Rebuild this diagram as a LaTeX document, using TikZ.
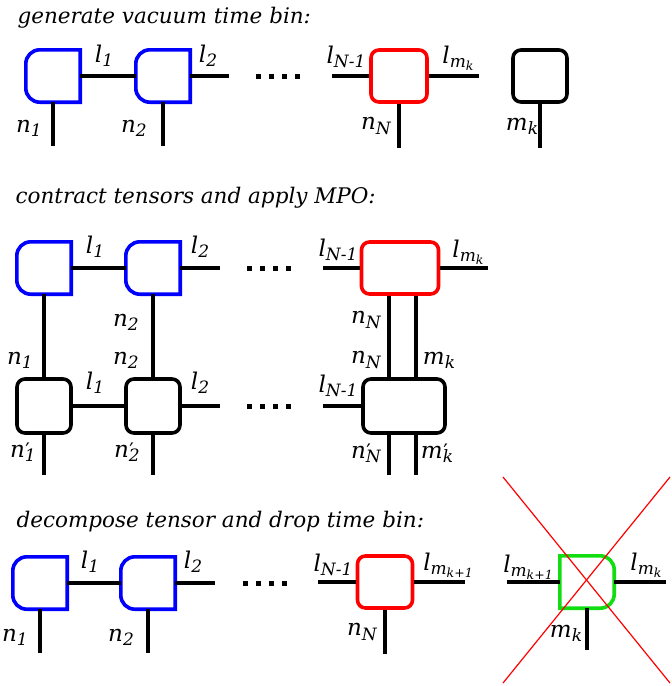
\documentclass[tikz,border=0pt]{standalone}
\usepackage{fontspec}
\setmainfont{DejaVu Serif}
\usetikzlibrary{calc}
\definecolor{ctBlue}{HTML}{0000FF}
\definecolor{ctRed}{HTML}{FF0000}
\definecolor{ctGreen}{HTML}{11DD11}
\newcommand{\subs}[1]{\raisebox{-0.35ex}{\fontsize{17}{17}\selectfont #1}}
\newcommand{\subsubs}[1]{\raisebox{-0.3ex}{\fontsize{12.5}{12.5}\selectfont #1}}
\newcommand{\lab}[2]{#1\subs{#2}}
\newcommand{\labp}[2]{#1\rlap{\fontsize{20}{20}\selectfont\upshape\kern0.5pt ′}\subs{#2}}
% half-rounded tensors: rounded on the left (dleft) or on the right (dright)
\newcommand{\dleft}[2]{\draw[#2,line width=3.6pt] (#1.north east) [rounded corners=14pt] -- (#1.north west) -- (#1.south west) [sharp corners] -- (#1.south east) -- cycle;}
\newcommand{\dright}[2]{\draw[#2,line width=3.6pt] (#1.north west) [rounded corners=14pt] -- (#1.north east) -- (#1.south east) [sharp corners] -- (#1.south west) -- cycle;}
\tikzset{
  tens/.style={draw,line width=3.6pt,rounded corners=8pt,minimum width=54pt,minimum height=52pt,inner sep=0pt},
  half/.style={minimum width=54pt,minimum height=52pt,inner sep=0pt},
  bond/.style={line width=4.2pt},
  title/.style={anchor=base west,font=\itshape\fontsize{21.5}{24}\selectfont},
}

\begin{document}
\begin{tikzpicture}[x=1pt,y=-1pt,every node/.style={font=\itshape\fontsize{23}{25}\selectfont}]
  \useasboundingbox (0,0) rectangle (672,686);

  % generate vacuum time bin
  \node[title] (t1) at (14,23) {generate vacuum time bin:};
  \node[half] (a1) at (53,76) {};
  \node[half] (a2) at (163,76) {};
  \node[tens,ctRed,minimum width=56pt] (aN) at (399,76) {};
  \node[tens] (am) at (540,76) {};
  \dleft{a1}{ctBlue}
  \dleft{a2}{ctBlue}
  \coordinate (a2r) at (229,76);
  \coordinate (aNl) at (332,76);
  \coordinate (aNr) at (479,76);
  \draw[bond] (a1.east) -- (a2.west);
  \draw[bond] (a2.east) -- (a2r);
  \draw[bond] (aNl) -- (aN.west);
  \draw[bond] (aN.east) -- (aNr);
  \foreach \t in {a1,a2,aN,am}
    \draw[bond] (\t.south) -- ++(0,44);
  \node (la1) at (104,56) {\lab{l}{1}};
  \node (la2) at (208,56) {\lab{l}{2}};
  \node (la3) at (346,57) {\lab{l}{N-1}};
  \node (la4) at (458,58) {\lab{l}{m\subsubs{k}}};
  \node (na1) at (29,128) {\lab{n}{1}};
  \node (na2) at (134,128) {\lab{n}{2}};
  \node (na3) at (376,126) {\lab{n}{N}};
  \node (na4) at (522,126) {\lab{m}{k}};

  % contract tensors and apply MPO
  \node[title] (t2) at (12,203) {contract tensors and apply MPO:};
  \node[half] (b1) at (44,268) {};
  \node[half] (b2) at (153,268) {};
  \node[tens,ctRed,minimum width=77pt] (bN) at (400,268) {};
  \dleft{b1}{ctBlue}
  \dleft{b2}{ctBlue}
  \node[tens,minimum height=54pt] (c1) at (44,406) {};
  \node[tens,minimum height=54pt] (c2) at (153,406) {};
  \node[tens,minimum width=82pt,minimum height=54pt] (cN) at (404,406) {};
  \coordinate (pN) at (389,0);
  \coordinate (pm) at (416,0);
  \coordinate (b2r) at (220,268);
  \coordinate (bNl) at (323,268);
  \coordinate (bNr) at (488,268);
  \coordinate (c2r) at (220,406);
  \coordinate (cNl) at (323,406);
  \draw[bond] (b1.east) -- (b2.west);
  \draw[bond] (b2.east) -- (b2r);
  \draw[bond] (bNl) -- (bN.west);
  \draw[bond] (bN.east) -- (bNr);
  \draw[bond] (c1.east) -- (c2.west);
  \draw[bond] (c2.east) -- (c2r);
  \draw[bond] (cNl) -- (cN.west);
  \draw[bond] (b1.south) -- (c1.north);
  \draw[bond] (b2.south) -- (c2.north);
  \draw[bond] (bN.south -| pN) -- (cN.north -| pN);
  \draw[bond] (bN.south -| pm) -- (cN.north -| pm);
  \draw[bond] (c1.south) -- ++(0,40);
  \draw[bond] (c2.south) -- ++(0,40);
  \draw[bond] (cN.south -| pN) -- ++(0,40);
  \draw[bond] (cN.south -| pm) -- ++(0,40);
  \node (lb1) at (95,247) {\lab{l}{1}};
  \node (lb2) at (200,247) {\lab{l}{2}};
  \node (lb3) at (338,250) {\lab{l}{N-1}};
  \node (lb4) at (468,252) {\lab{l}{m\subsubs{k}}};
  \node (nb2) at (126,322) {\lab{n}{2}};
  \node (nb3) at (366,320) {\lab{n}{N}};
  \node (nc1) at (20,360) {\lab{n}{1}};
  \node (nc2) at (126,360) {\lab{n}{2}};
  \node (nc3) at (366,360) {\lab{n}{N}};
  \node (nc4) at (439,360) {\lab{m}{k}};
  \node (lc1) at (95,383) {\lab{l}{1}};
  \node (lc2) at (200,383) {\lab{l}{2}};
  \node (lc3) at (338,386) {\lab{l}{N-1}};
  \node (nd1) at (23,452) {\labp{n}{1}};
  \node (nd2) at (127,452) {\labp{n}{2}};
  \node (nd3) at (366,453) {\labp{n}{N}};
  \node (nd4) at (437,453) {\labp{m}{k}};

  % decompose tensor and drop time bin
  \node[title] (t3) at (13,527) {decompose tensor and drop time bin:};
  \node[half] (d1) at (40,583) {};
  \node[half] (d2) at (148,583) {};
  \node[tens,ctRed,minimum width=55pt] (dN) at (385,582) {};
  \node[half] (dm) at (587,582) {};
  \dleft{d1}{ctBlue}
  \dleft{d2}{ctBlue}
  \dright{dm}{ctGreen}
  \coordinate (d2r) at (215,583);
  \coordinate (dNl) at (318,582);
  \coordinate (dNr) at (465,582);
  \coordinate (dml) at (507,582);
  \coordinate (dmr) at (666,582);
  \draw[bond] (d1.east) -- (d2.west);
  \draw[bond] (d2.east) -- (d2r);
  \draw[bond] (dNl) -- (dN.west);
  \draw[bond] (dN.east) -- (dNr);
  \draw[bond] (dml) -- (dm.west);
  \draw[bond] (dm.east) -- (dmr);
  \foreach \t in {d1,d2,dN}
    \draw[bond] (\t.south) -- ++(0,44);
  \draw[bond] (dm.south) -- ++(0,42);
  \node (ld1) at (90,562) {\lab{l}{1}};
  \node (ld2) at (193,562) {\lab{l}{2}};
  \node (ld3) at (333,565) {\lab{l}{N-1}};
  \node (ld4) at (448,565) {\lab{l}{m\subsubs{k+1}}};
  \node (ld5) at (528,567) {\lab{l}{m\subsubs{k+1}}};
  \node (ld6) at (646,565) {\lab{l}{m\subsubs{k}}};
  \node (ne1) at (15,637) {\lab{n}{1}};
  \node (ne2) at (121,637) {\lab{n}{2}};
  \node (ne3) at (362,632) {\lab{n}{N}};
  \node (ne4) at (566,633) {\lab{m}{k}};
  % dropped time bin
  \draw[ctRed,line width=1.2pt] (503,477) -- (670,683);
  \draw[ctRed,line width=1.2pt] (503,683) -- (670,477);

  % dots
  \foreach \x/\y in {256/76,247/268,247/406,243/583}
    \foreach \i in {0,...,3}
      \fill ({\x+13*\i},{\y-2.5}) rectangle ++(5,5);
\end{tikzpicture}
\end{document}
